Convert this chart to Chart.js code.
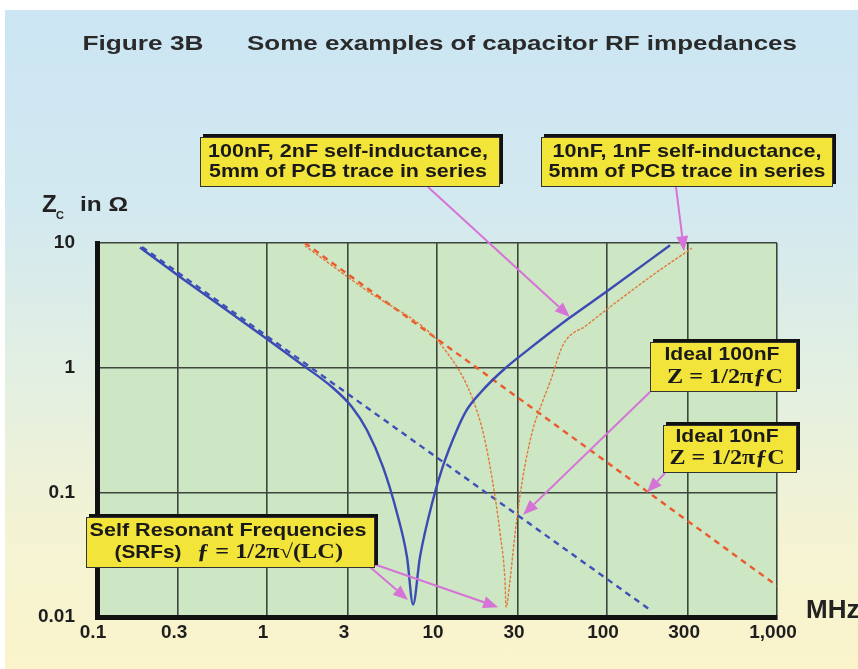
<!DOCTYPE html>
<html lang="en">
<head>
    <meta charset="UTF-8">
    <title>Figure 3B - capacitor RF impedances</title>
    <script src="https://cdn.jsdelivr.net/npm/chart.js"></script>
    <style>
        html, body {
            margin: 0;
            padding: 0;
            background: #ffffff;
        }
        body {
            width: 858px;
            height: 669px;
            overflow: hidden;
            position: relative;
        }
        .panel {
            position: absolute;
            left: 5px;
            top: 10px;
            width: 853px;
            height: 659px;
            background: linear-gradient(to bottom, #cbe5f3 0%, #d3e9f0 30%, #e2efe2 55%, #f3f3d4 78%, #fbf4cb 100%);
        }
        #chart {
            position: absolute;
            left: 0;
            top: 0;
        }
    </style>
</head>
<body>
    <div class="panel"></div>
    <canvas id="chart" width="858" height="669"></canvas>

    <script>
        // Axis ticks (MHz / ohms)
        const xTicks = [0.1, 0.3, 1, 3, 10, 30, 100, 300, 1000];
        const xTickLabels = ['0.1', '0.3', '1', '3', '10', '30', '100', '300', '1,000'];
        const yTicks = [0.01, 0.1, 1, 10];
        const yTickLabels = ['0.01', '0.1', '1', '10'];

        // Ideal 100nF, blue dashed
        const ideal100Freq = [0.184, 178];
        const ideal100Z = [9.3, 0.0115];

        // Ideal 10nF, red dashed
        const ideal10Freq = [1.67, 1000];
        const ideal10Z = [10, 0.0178];

        // 100nF + 2nH + trace, blue solid
        const real100Freq = [0.179, 0.32, 1.0, 1.56, 2.44, 3.16, 3.87, 4.81, 5.82, 6.66, 7.23, 7.94, 9.47, 10.8, 13.1, 15, 18, 25, 35, 60, 100, 235];
        const real100Z = [9.2, 5.15, 1.7, 1.09, 0.69, 0.484, 0.316, 0.16, 0.068, 0.0303, 0.0126, 0.0303, 0.087, 0.16, 0.316, 0.46, 0.63, 0.98, 1.42, 2.5, 4.1, 9.6];

        // 10nF + 1nH + trace, orange thin
        const real10Freq = [1.67, 3.87, 9.1, 11.5, 14.2, 16.3, 18.7, 21.3, 23.5, 25.1, 25.5, 26.9, 28.8, 31.6, 36.2, 42.1, 46.3, 55.1, 76.3, 114, 197, 316];
        const real10Z = [9.5, 4.15, 1.9, 1.31, 0.84, 0.55, 0.3, 0.119, 0.047, 0.0199, 0.012, 0.0199, 0.047, 0.119, 0.3, 0.55, 0.77, 1.52, 2.2, 3.37, 5.85, 9.1];

        // Arrow tips (MHz, ohms)
        const arrowTipFreq = [60.5, 284, 32.1, 172, 6.75, 22.9];
        const arrowTipZ = [2.55, 8.6, 0.066, 0.1, 0.0137, 0.012];

        function toPoints(xs, ys) {
            return xs.map((x, i) => ({ x: x, y: ys[i] }));
        }

        // draw text squeezed/stretched to a given width
        function fitText(ctx, text, cx, cy, w) {
            const m = ctx.measureText(text).width;
            ctx.save();
            ctx.translate(cx, cy);
            ctx.scale(w / m, 1);
            ctx.textAlign = 'center';
            ctx.textBaseline = 'middle';
            ctx.fillText(text, 0, 0);
            ctx.restore();
        }

        function drawBox(ctx, b) {
            ctx.fillStyle = '#111';
            ctx.fillRect(b.x + 3, b.y - 3, b.w, b.h);
            ctx.fillStyle = '#f3e43a';
            ctx.fillRect(b.x, b.y, b.w, b.h);
            ctx.strokeStyle = '#333';
            ctx.lineWidth = 1;
            ctx.strokeRect(b.x + 0.5, b.y + 0.5, b.w - 1, b.h - 1);
        }

        function drawArrow(ctx, x0, y0, x1, y1) {
            const ang = Math.atan2(y1 - y0, x1 - x0);
            const len = 15, half = 6;
            ctx.strokeStyle = '#d673d6';
            ctx.fillStyle = '#d673d6';
            ctx.lineWidth = 2;
            ctx.beginPath();
            ctx.moveTo(x0, y0);
            ctx.lineTo(x1 - Math.cos(ang) * len, y1 - Math.sin(ang) * len);
            ctx.stroke();
            ctx.beginPath();
            ctx.moveTo(x1, y1);
            ctx.lineTo(x1 - Math.cos(ang) * len - Math.sin(ang) * half, y1 - Math.sin(ang) * len + Math.cos(ang) * half);
            ctx.lineTo(x1 - Math.cos(ang) * len + Math.sin(ang) * half, y1 - Math.sin(ang) * len - Math.cos(ang) * half);
            ctx.closePath();
            ctx.fill();
        }

        // Green plot area
        const plotFill = {
            id: 'plotFill',
            beforeDraw(chart) {
                const { ctx, chartArea: a } = chart;
                ctx.save();
                ctx.fillStyle = '#cde6c4';
                ctx.fillRect(a.left, a.top, a.right - a.left, a.bottom - a.top);
                ctx.restore();
            }
        };

        // Title, axis names, call-out boxes and arrows
        const callouts = {
            id: 'callouts',
            afterDraw(chart) {
                const ctx = chart.ctx;
                const xs = chart.scales.x, ys = chart.scales.y;
                ctx.save();

                ctx.fillStyle = '#2a2a2a';
                ctx.font = 'bold 21px "Liberation Sans", Arial, sans-serif';
                fitText(ctx, 'Figure 3B', 143, 44, 121);
                fitText(ctx, 'Some examples of capacitor RF impedances', 522, 44, 550);

                ctx.fillStyle = '#222';
                ctx.textAlign = 'left';
                ctx.textBaseline = 'alphabetic';
                ctx.font = 'bold 24px "Liberation Sans", Arial, sans-serif';
                ctx.fillText('Z', 42, 212);
                ctx.font = 'bold 11px "Liberation Sans", Arial, sans-serif';
                ctx.fillText('C', 56, 219);
                ctx.font = 'bold 20px "Liberation Sans", Arial, sans-serif';
                fitText(ctx, 'in \u03A9', 104, 205, 48);

                ctx.font = 'bold 26px "Liberation Sans", Arial, sans-serif';
                ctx.textAlign = 'left';
                ctx.textBaseline = 'middle';
                ctx.fillText('MHz', 806, 611);

                // arrows
                const starts = [[428, 187], [676, 187], [650, 392], [665, 473], [362, 560], [362, 560]];
                starts.forEach((s, i) => {
                    drawArrow(ctx, s[0], s[1], xs.getPixelForValue(arrowTipFreq[i]), ys.getPixelForValue(arrowTipZ[i]));
                });

                const sans = 'bold 19px "Liberation Sans", Arial, sans-serif';
                const serif = 'bold 20px "Liberation Serif", "Times New Roman", serif';

                const b1 = { x: 200, y: 137, w: 300, h: 50 };
                drawBox(ctx, b1);
                ctx.fillStyle = '#1a1a1a';
                ctx.font = sans;
                fitText(ctx, '100nF, 2nF self-inductance,', 348, 152, 280);
                fitText(ctx, '5mm of PCB trace in series', 348, 172, 278);

                const b2 = { x: 541, y: 137, w: 292, h: 50 };
                drawBox(ctx, b2);
                ctx.fillStyle = '#1a1a1a';
                ctx.font = sans;
                fitText(ctx, '10nF, 1nF self-inductance,', 687, 152, 269);
                fitText(ctx, '5mm of PCB trace in series', 687, 172, 277);

                const b3 = { x: 650, y: 342, w: 147, h: 50 };
                drawBox(ctx, b3);
                ctx.fillStyle = '#1a1a1a';
                ctx.font = sans;
                fitText(ctx, 'Ideal 100nF', 722, 355, 115);
                ctx.font = serif;
                fitText(ctx, 'Z = 1/2\u03C0\u0192C', 725, 378, 116);

                const b4 = { x: 663, y: 425, w: 134, h: 48 };
                drawBox(ctx, b4);
                ctx.fillStyle = '#1a1a1a';
                ctx.font = sans;
                fitText(ctx, 'Ideal 10nF', 727, 437, 103);
                ctx.font = serif;
                fitText(ctx, 'Z = 1/2\u03C0\u0192C', 727, 459, 115);

                const b5 = { x: 86, y: 517, w: 289, h: 51 };
                drawBox(ctx, b5);
                ctx.fillStyle = '#1a1a1a';
                ctx.font = sans;
                fitText(ctx, 'Self Resonant Frequencies', 228, 531, 277);
                fitText(ctx, '(SRFs)', 148, 553, 67);
                ctx.font = serif;
                fitText(ctx, '\u0192 = 1/2\u03C0\u221A(LC)', 270, 553, 146);

                ctx.restore();
            }
        };

        const ctx = document.getElementById('chart').getContext('2d');
        const chart = new Chart(ctx, {
            type: 'scatter',
            data: {
                datasets: [
                    {
                        label: '100nF + 2nH',
                        data: toPoints(real100Freq, real100Z),
                        showLine: true,
                        borderColor: '#3c4bb4',
                        borderWidth: 2.4,
                        pointRadius: 0,
                        cubicInterpolationMode: 'monotone'
                    },
                    {
                        label: '10nF + 1nH',
                        data: toPoints(real10Freq, real10Z),
                        showLine: true,
                        borderColor: '#e2793a',
                        borderWidth: 1.4,
                        borderDash: [3, 1.5],
                        pointRadius: 0,
                        cubicInterpolationMode: 'monotone'
                    },
                    {
                        label: 'Ideal 100nF',
                        data: toPoints(ideal100Freq, ideal100Z),
                        showLine: true,
                        borderColor: '#3f50b8',
                        borderWidth: 2.4,
                        borderDash: [6, 5],
                        pointRadius: 0
                    },
                    {
                        label: 'Ideal 10nF',
                        data: toPoints(ideal10Freq, ideal10Z),
                        showLine: true,
                        borderColor: '#ea5a2c',
                        borderWidth: 2.4,
                        borderDash: [6, 5],
                        pointRadius: 0
                    }
                ]
            },
            options: {
                responsive: false,
                animation: false,
                layout: {
                    padding: { top: 243, right: 81, left: 0, bottom: 0 }
                },
                plugins: {
                    legend: { display: false },
                    tooltip: { enabled: false }
                },
                scales: {
                    x: {
                        type: 'logarithmic',
                        min: 0.1,
                        max: 1000,
                        afterBuildTicks: (s) => { s.ticks = xTicks.map(v => ({ value: v })); },
                        afterFit: (s) => { s.height = 52; },
                        grid: { color: '#3c463c', lineWidth: 1.6, drawTicks: false },
                        border: { display: true, color: '#111', width: 5 },
                        ticks: {
                            autoSkip: false,
                            maxRotation: 0,
                            padding: 4,
                            labelOffset: -4,
                            color: '#1e1e1e',
                            font: { family: '"Liberation Sans", Arial, sans-serif', size: 19, weight: 'bold' },
                            callback: (v, i) => xTickLabels[i]
                        }
                    },
                    y: {
                        type: 'logarithmic',
                        min: 0.01,
                        max: 10,
                        afterBuildTicks: (s) => { s.ticks = yTicks.map(v => ({ value: v })); },
                        afterFit: (s) => { s.width = 97; },
                        grid: { color: '#3c463c', lineWidth: 1.6, drawTicks: false },
                        border: { display: true, color: '#111', width: 5 },
                        ticks: {
                            autoSkip: false,
                            padding: 22,
                            color: '#1e1e1e',
                            font: { family: '"Liberation Sans", Arial, sans-serif', size: 19, weight: 'bold' },
                            callback: (v, i) => yTickLabels[i]
                        }
                    }
                }
            },
            plugins: [plotFill, callouts]
        });
    </script>
</body>
</html>
